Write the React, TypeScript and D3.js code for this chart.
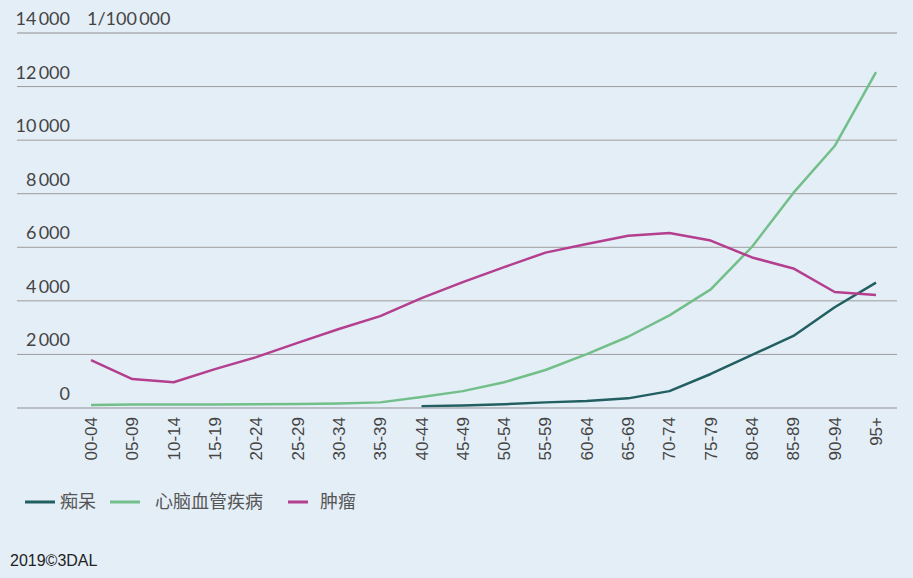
import React from "react";
import * as d3 from "d3";

const categories = ["00-04","05-09","10-14","15-19","20-24","25-29","30-34","35-39","40-44","45-49","50-54","55-59","60-64","65-69","70-74","75-79","80-84","85-89","90-94","95+"];
const dementia: (number | null)[] = [null,null,null,null,null,null,null,null,70,90,140,210,260,360,630,1270,1980,2690,3760,4680];
const cardio: number[] = [110,130,130,130,140,150,170,210,410,630,960,1420,2010,2660,3460,4430,6020,8030,9780,12540];
const cancer: number[] = [1790,1080,960,1450,1900,2430,2950,3430,4100,4700,5260,5800,6120,6430,6530,6250,5620,5210,4330,4220];
const yTicks = [0,2000,4000,6000,8000,10000,12000,14000];
const seriesNames = ["痴呆","心脑血管疾病","肿瘤"];
const seriesColors = ["#215f60","#72bf8a","#b43f8e"];

const W = 913, H = 578;

export default function App() {
  const x = d3.scalePoint<string>().domain(categories).range([91, 876]);
  const y = d3.scaleLinear().domain([0, 14000]).range([408, 33]);
  const fmt = (v: number) => (v >= 1000 ? d3.format(",")(v).replace(",", "\u2009") : String(v));
  const series = [dementia, cardio, cancer];
  const line = d3.line<[string, number | null]>()
    .defined(d => d[1] != null)
    .x(d => x(d[0]) as number)
    .y(d => y(d[1] as number));
  const legendX = [[25, 55, 60], [110, 140, 155], [288, 308, 320]];
  return (
    <div style={{ position: "absolute", left: 0, top: 0, width: W, height: H }}>
      <svg width={W} height={H} style={{ display: "block", background: "#e4eef7" }}>
        {yTicks.map((t, i) => (
          <g key={t}>
            <line x1={17} x2={897} y1={y(t)} y2={y(t)}
              stroke={t === 0 || t === 14000 ? "#b9bdc4" : "#9c9c9c"}
              strokeWidth={t === 0 || t === 14000 ? 2 : 1} />
            <text x={70} y={y(t) - 8} textAnchor="end" fontFamily="Lato, 'Open Sans', sans-serif"
              fontSize={18} fill="#444">{fmt(t)}</text>
          </g>
        ))}
        <text x={87} y={25} fontFamily="Lato, 'Open Sans', sans-serif" fontSize={18} fill="#444">1/100{"\u2009"}000</text>
        {categories.map(c => (
          <text key={c} transform={`translate(${(x(c) as number) + 6},417) rotate(-90)`} textAnchor="end"
            fontFamily="'Liberation Sans', Arial, sans-serif" fontSize={17} fill="#444">{c}</text>
        ))}
        {series.map((s, i) => (
          <path key={i} d={line(categories.map((c, j) => [c, s[j]] as [string, number | null])) || ""}
            fill="none" stroke={seriesColors[i]} strokeWidth={2.5} strokeLinejoin="round" />
        ))}
        {seriesNames.map((n, i) => (
          <g key={n}>
            <line x1={legendX[i][0]} x2={legendX[i][1]} y1={502} y2={502} stroke={seriesColors[i]} strokeWidth={3} />
            <text x={legendX[i][2]} y={508} fontFamily="'Noto Sans CJK SC', sans-serif" fontSize={18} fill="#555">{n}</text>
          </g>
        ))}
        <text x={10} y={566} fontFamily="'Liberation Sans', Arial, sans-serif" fontSize={16} fill="#222">2019©3DAL</text>
      </svg>
    </div>
  );
}
